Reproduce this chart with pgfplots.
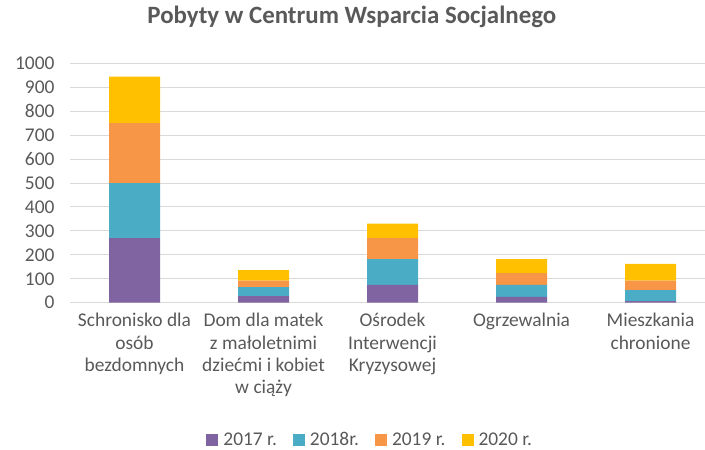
\documentclass[border=0pt]{standalone}
\usepackage{pgfplots}
\pgfplotsset{compat=1.18}
\usepackage{fontspec}
\setmainfont{Carlito}
\definecolor{c17}{HTML}{8064A2}
\definecolor{c18}{HTML}{4BACC6}
\definecolor{c19}{HTML}{F79646}
\definecolor{c20}{HTML}{FFC000}
\definecolor{txt}{HTML}{595959}
\definecolor{grd}{HTML}{D9D9D9}
\begin{document}
\begin{tikzpicture}
\path[use as bounding box] (0,0) rectangle (705bp,-450bp);
\begin{axis}[
    at={(70bp,-302.7bp)}, anchor=south west,
    scale only axis,
    width=634.7bp, height=239.4bp,
    ybar stacked, bar width=51bp,
    xmin=-0.5, xmax=4.42,
    ymin=0, ymax=1000,
    ytick={0,100,...,1000},
    xtick={0,1,2,3,4},
    xticklabels={{Schronisko dla\\osób\\bezdomnych},{Dom dla matek\\z małoletnimi\\dziećmi i kobiet\\w ciąży},{Ośrodek\\Interwencji\\Kryzysowej},{Ogrzewalnia},{Mieszkania\\chronione}},
    xticklabel style={align=center, font=\fontsize{19.5}{22.5}\selectfont, text=txt, yshift=-7bp},
    yticklabel style={font=\fontsize{19.5}{22}\selectfont, text=txt, xshift=-12bp},
    /pgf/number format/assume math mode=true,
    /pgf/number format/set thousands separator={},
    major tick length=0pt,
    axis line style={draw=none},
    ymajorgrids, grid style={grd, line width=1pt},
    title={Pobyty w Centrum Wsparcia Socjalnego},
    title style={at={(0.444,1.168)}, anchor=center, font=\bfseries\fontsize{25}{28}\selectfont, text=txt},
    legend style={at={(0.473,-0.573)}, anchor=center, draw=none, legend columns=4,
        font=\fontsize{19.5}{22}\selectfont, text=txt,
        /tikz/every odd column/.append style={column sep=3bp},
        /tikz/every even column/.append style={column sep=14bp}},
    legend image code/.code={\fill[#1] (0bp,-6bp) rectangle (12bp,6bp);},
    every axis plot/.append style={draw=none},
]
\addplot[fill=c17] coordinates {(0,270) (1,28) (2,74) (3,24) (4,7)};
\addplot[fill=c18] coordinates {(0,230) (1,37) (2,108) (3,50) (4,46)};
\addplot[fill=c19] coordinates {(0,250) (1,27) (2,88) (3,50) (4,39)};
\addplot[fill=c20] coordinates {(0,194) (1,44) (2,60) (3,58) (4,70)};
\legend{2017 r.,2018r.,2019 r.,2020 r.}
\end{axis}
\end{tikzpicture}
\end{document}
